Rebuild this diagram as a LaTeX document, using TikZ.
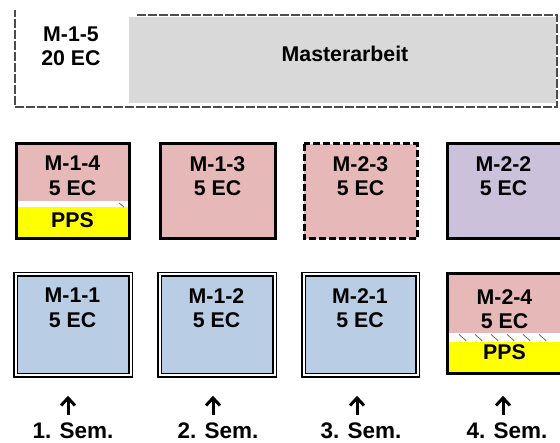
\documentclass[tikz,border=0pt]{standalone}
\usepackage{fontspec}
\setmainfont{Liberation Sans}
\definecolor{pinkc}{HTML}{E6B9B8}
\definecolor{bluec}{HTML}{B9CDE5}
\definecolor{purc}{HTML}{CCC1DA}
\definecolor{grayc}{HTML}{D9D9D9}
\definecolor{yelc}{HTML}{FFFF00}
\begin{document}
\begin{tikzpicture}[x=1pt,y=-1pt,
  font=\fontsize{21.3}{24.5}\selectfont\bfseries,
  thickbox/.style={draw=black, line width=3pt},
  dblbox/.style={draw=black, double=white, double distance=2pt, line width=1.3pt},
  dashbox/.style={draw=black, line width=3pt, dash pattern=on 7pt off 3pt},
  outerframe/.style={draw=black!70, line width=2.4pt, dash pattern=on 9pt off 2pt},
  lbl/.style={align=center, inner sep=0pt},
  semlbl/.style={inner sep=0pt, font=\fontsize{22.5}{26}\selectfont\bfseries},
  uparrow/.style={line width=3pt},
  hatchmark/.style={draw=black!60, line width=0.8pt}]
\useasboundingbox (0,0) rectangle (560,443);

% ---------- top: Masterarbeit ----------
\fill[grayc] (129,17) rectangle (556,103);
\draw[outerframe] (137,15) -- (557,15) -- (557,107) -- (15,107) -- (15,10);
\node[lbl] (m15) at (71,46.5) {M-1-5\\20 EC};
\node[lbl] (ma) at (345,54) {Masterarbeit};

% ---------- row 2 ----------
% M-1-4
\fill[pinkc] (16,144) rectangle (129,201);
\fill[white] (16,201) rectangle (129,207);
\fill[yelc] (16,207) rectangle (129,239);
\draw[hatchmark] (119,203) -- (124,207);
\draw[thickbox] (16,144) rectangle (129,239);
\node[lbl] (m14) at (72.5,176) {M-1-4\\5 EC};
\node[lbl] (pps1) at (72.5,220) {PPS};
% M-1-3
\fill[pinkc] (160,144) rectangle (275,239);
\draw[thickbox] (160,144) rectangle (275,239);
\node[lbl] (m13) at (217.5,176) {M-1-3\\5 EC};
% M-2-3
\fill[pinkc] (304,144) rectangle (417,239);
\draw[dashbox] (304,144) rectangle (417,239);
\node[lbl] (m23) at (360.5,176) {M-2-3\\5 EC};
% M-2-2
\fill[purc] (447,144) rectangle (563,239);
\draw[thickbox] (447,144) rectangle (563,239);
\node[lbl] (m22) at (503.5,176) {M-2-2\\5 EC};

% ---------- row 3 ----------
\fill[bluec] (15.5,274.5) rectangle (130.5,375.5);
\draw[dblbox] (15.5,274.5) rectangle (130.5,375.5);
\node[lbl] (m11) at (72.5,308) {M-1-1\\5 EC};

\fill[bluec] (159.5,274.5) rectangle (274.5,375.5);
\draw[dblbox] (159.5,274.5) rectangle (274.5,375.5);
\node[lbl] (m12) at (216.5,308) {M-1-2\\5 EC};

\fill[bluec] (303.5,274.5) rectangle (417.5,375.5);
\draw[dblbox] (303.5,274.5) rectangle (417.5,375.5);
\node[lbl] (m21) at (360,308) {M-2-1\\5 EC};

% M-2-4
\fill[pinkc] (447,274) rectangle (563,333);
\fill[white] (447,333) rectangle (563,342);
\fill[yelc] (447,342) rectangle (563,374);
\foreach \hx in {463,479,495,511,527,543}
  \draw[hatchmark] (\hx-4,334.5) -- (\hx+3,340.5);
\draw[thickbox] (447,274) rectangle (563,374);
\node[lbl] (m24) at (504.5,309) {M-2-4\\5 EC};
\node[lbl] (pps2) at (504.5,352) {PPS};

% ---------- semester arrows ----------
\foreach \ax/\tx/\n in {68/73/1, 213/218/2, 357/361/3, 503/507/4} {
  \coordinate (a\n b) at (\ax,415);
  \coordinate (a\n t) at (\ax,398);
  \draw[uparrow] (a\n b) -- (a\n t);
  \draw[uparrow, line join=miter] (\ax-7,405.5) -- (a\n t) -- (\ax+7,405.5);
  \node[semlbl] (s\n) at (\tx,431) {\n. Sem.};
}
\end{tikzpicture}
\end{document}
